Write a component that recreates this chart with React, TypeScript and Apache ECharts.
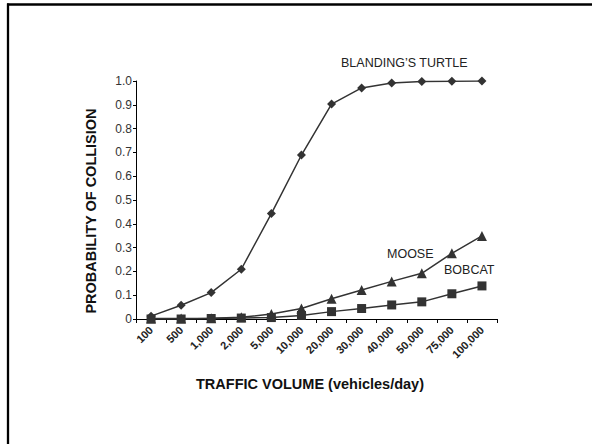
import React, { useEffect, useRef } from "react";
import * as echarts from "echarts";

const categories = ["100", "500", "1,000", "2,000", "5,000", "10,000", "20,000", "30,000", "40,000", "50,000", "75,000", "100,000"];
const turtle = [0.012, 0.058, 0.111, 0.209, 0.443, 0.689, 0.903, 0.971, 0.992, 0.998, 0.999, 1.0];
const moose = [0.002, 0.002, 0.003, 0.007, 0.021, 0.044, 0.085, 0.122, 0.158, 0.192, 0.276, 0.349];
const bobcat = [0.0, 0.0, 0.002, 0.004, 0.006, 0.015, 0.031, 0.044, 0.059, 0.072, 0.106, 0.139];
const yTicks = { min: 0, max: 1, interval: 0.1 };

const FONT = "Liberation Sans, Arial, sans-serif";
const INK = "#333333";

export default function App() {
  const ref = useRef<HTMLDivElement>(null);
  useEffect(() => {
    if (!ref.current) return;
    const chart = echarts.init(ref.current, null, { renderer: "svg" });
    const lineSeries = (name: string, data: number[], symbol: string, size: number) => ({
      name,
      type: "line",
      data,
      symbol,
      symbolSize: size,
      lineStyle: { color: INK, width: 1.5 },
      itemStyle: { color: INK },
      z: 3,
    });
    chart.setOption({
      animation: false,
      backgroundColor: "#ffffff",
      grid: { left: 136, right: 95, top: 81, bottom: 125 },
      xAxis: {
        type: "category",
        data: categories,
        boundaryGap: true,
        axisLine: { lineStyle: { color: "#000", width: 1 } },
        axisTick: { show: true, inside: false, length: 4, lineStyle: { color: "#000" } },
        axisLabel: {
          rotate: 45,
          fontFamily: FONT,
          fontSize: 11,
          fontWeight: "bold",
          color: "#222",
          margin: 9,
        },
        splitLine: { show: false },
      },
      yAxis: {
        type: "value",
        min: yTicks.min,
        max: yTicks.max,
        interval: yTicks.interval,
        axisLine: { show: true, lineStyle: { color: "#000", width: 1 } },
        axisTick: { show: true, inside: false, length: 3, lineStyle: { color: "#000" } },
        axisLabel: {
          fontFamily: FONT,
          fontSize: 12,
          color: "#333",
          margin: 4,
          formatter: (v: number) => (v === 0 ? "0" : v.toFixed(1)),
        },
        splitLine: { show: false },
      },
      series: [
        lineSeries("BLANDING’S TURTLE", turtle, "diamond", 9),
        lineSeries("MOOSE", moose, "triangle", 10),
        lineSeries("BOBCAT", bobcat, "rect", 9),
      ],
      graphic: [
        { type: "line", shape: { x1: 8, y1: 3.5, x2: 8, y2: 444 }, style: { stroke: "#000", lineWidth: 2.3 } },
        { type: "line", shape: { x1: 7, y1: 4.5, x2: 592, y2: 4.5 }, style: { stroke: "#000", lineWidth: 2.3 } },
        {
          type: "text", x: 341, y: 63,
          style: { text: "BLANDING’S TURTLE", font: `12.5px ${FONT}`, fill: "#222", verticalAlign: "middle" },
        },
        {
          type: "text", x: 387, y: 254,
          style: { text: "MOOSE", font: `12.5px ${FONT}`, fill: "#222", verticalAlign: "middle" },
        },
        {
          type: "text", x: 444, y: 270,
          style: { text: "BOBCAT", font: `12.5px ${FONT}`, fill: "#222", verticalAlign: "middle" },
        },
        {
          type: "text", x: 91, y: 211, rotation: Math.PI / 2,
          style: { text: "PROBABILITY OF COLLISION", font: `bold 14.5px ${FONT}`, fill: "#111", align: "center", verticalAlign: "middle" },
        },
        {
          type: "text", x: 310, y: 384,
          style: { text: "TRAFFIC VOLUME (vehicles/day)", font: `bold 14.5px ${FONT}`, fill: "#111", align: "center", verticalAlign: "middle" },
        },
      ],
    });
    return () => chart.dispose();
  }, []);
  return <div ref={ref} style={{ position: "absolute", left: 0, top: 0, width: 592, height: 444 }} />;
}
